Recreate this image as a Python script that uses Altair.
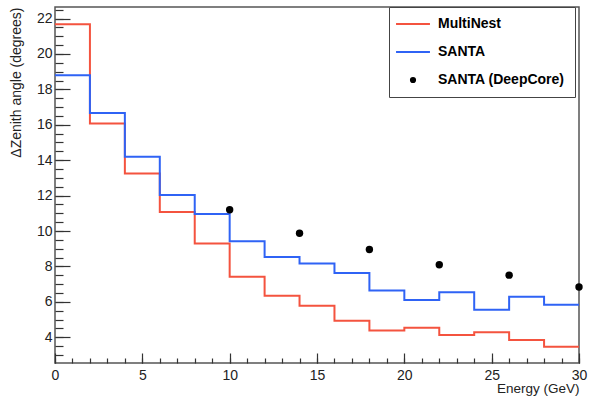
import altair as alt
import pandas as pd

# Energy bins (lower edges, GeV); the last edge closes the histogram at 30 GeV
bin_edges = [0, 2, 4, 6, 8, 10, 12, 14, 16, 18, 20, 22, 24, 26, 28, 30]

# Zenith-angle resolution per energy bin (degrees)
multinest = [21.68, 16.07, 13.25, 11.07, 9.30, 7.42, 6.35, 5.78, 4.93, 4.39,
             4.54, 4.13, 4.28, 3.85, 3.47]
santa = [18.80, 16.67, 14.19, 12.03, 10.96, 9.43, 8.53, 8.17, 7.63, 6.65,
         6.10, 6.54, 5.56, 6.29, 5.84]

# DeepCore reference points
deepcore_energy = [10, 14, 18, 22, 26, 30]
deepcore_angle = [11.20, 9.88, 8.96, 8.10, 7.51, 6.84]

series_names = ["MultiNest", "SANTA", "SANTA (DeepCore)"]
series_colors = ["#f4533f", "#2f63f5", "#000000"]

major_y = [4, 6, 8, 10, 12, 14, 16, 18, 20, 22]
minor_y = [3 + 0.5 * i for i in range(40)]
major_x = [0, 5, 10, 15, 20, 25, 30]
minor_x = list(range(0, 31))

FONT = "Liberation Sans"


def step_rows(name, values):
    # repeat the last value at the closing edge so the step covers the final bin
    vals = values + [values[-1]]
    return [{"energy": e, "angle": v, "series": name} for e, v in zip(bin_edges, vals)]


hist = pd.DataFrame(step_rows("MultiNest", multinest) + step_rows("SANTA", santa))
points = pd.DataFrame({"energy": deepcore_energy, "angle": deepcore_angle,
                       "series": "SANTA (DeepCore)"})

x_scale = alt.Scale(domain=[0, 30], nice=False, zero=False)
y_scale = alt.Scale(domain=[2.55, 22.65], nice=False, zero=False)

# line entries get a stroke symbol, the DeepCore entry a filled dot
is_dot = "datum.value === 'SANTA (DeepCore)'"
legend = alt.Legend(
    title=None,
    orient="none",
    legendX=334,
    legendY=0,
    padding=10,
    fillColor="white",
    strokeColor="#444",
    labelFont=FONT,
    labelFontSize=14,
    labelFontWeight="bold",
    labelColor="black",
    labelOffset=18,
    symbolOffset=7,
    rowPadding=14,
    symbolOpacity=1,
    symbolType=alt.ExprRef(expr=f"{is_dot} ? 'circle' : 'stroke'"),
    symbolSize=alt.ExprRef(expr=f"{is_dot} ? 38 : 1150"),
    symbolStrokeWidth=alt.ExprRef(expr=f"{is_dot} ? 0 : 2"),
    symbolFillColor=alt.ExprRef(expr=f"{is_dot} ? 'black' : 'transparent'"),
)

color = alt.Color("series:N",
                  scale=alt.Scale(domain=series_names, range=series_colors),
                  legend=legend)

lines = alt.Chart(hist).mark_line(interpolate="step-after", strokeWidth=2).encode(
    x=alt.X("energy:Q", scale=x_scale,
            axis=alt.Axis(values=major_x, orient="bottom", offset=-10, tickSize=10,
                          domain=False, grid=False, tickColor="#333", tickWidth=1.2,
                          labelFont=FONT, labelFontSize=14, labelColor="#222",
                          labelPadding=5, labelFlush=False,
                          title="Energy (GeV)", titleFont=FONT, titleFontSize=13.5,
                          titleFontWeight="normal", titleColor="#222",
                          titleAnchor="end", titleBaseline="middle", titleY=35)),
    y=alt.Y("angle:Q", scale=y_scale,
            axis=alt.Axis(values=major_y, orient="left", offset=-15, tickSize=15,
                          domain=False, grid=False, tickColor="#333", tickWidth=1.2,
                          labelFont=FONT, labelFontSize=14, labelColor="#222",
                          labelPadding=3,
                          title="\u0394Zenith angle (degrees)", titleFont=FONT,
                          titleFontSize=14, titleFontWeight="normal",
                          titleColor="#222", titleAnchor="end", titlePadding=13)),
    color=color,
)

dots = alt.Chart(points).mark_circle(size=55, opacity=1).encode(
    x=alt.X("energy:Q", scale=x_scale,
            axis=alt.Axis(values=minor_x, orient="bottom", offset=-5, tickSize=5,
                          domain=False, grid=False, labels=False, title=None,
                          tickColor="#333", tickWidth=1.2)),
    y=alt.Y("angle:Q", scale=y_scale,
            axis=alt.Axis(values=minor_y, orient="left", offset=-8, tickSize=8,
                          domain=False, grid=False, labels=False, title=None,
                          tickColor="#333", tickWidth=1.2)),
    color=color,
)

chart = (
    alt.layer(lines, dots)
    .resolve_axis(x="independent", y="independent")
    .properties(
        width=524,
        height=356,
        autosize=alt.AutoSizeParams(type="none"),
        padding={"left": 55, "top": 7, "right": 18, "bottom": 34},
        background="white",
    )
    .configure_view(stroke="#555", strokeWidth=1.5)
)

chart.save("out.html", embed_options={"renderer": "svg", "actions": False})
